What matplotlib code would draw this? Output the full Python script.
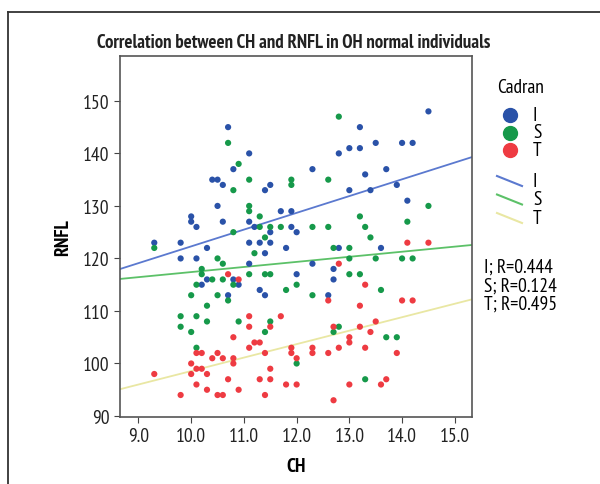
import numpy as np
import matplotlib
matplotlib.use('Agg')
import matplotlib.pyplot as plt
from matplotlib.lines import Line2D

plt.rcParams['font.family'] = ['PT Sans Narrow', 'DejaVu Sans']

# Cadran I (blue)
ch_i = [10.7, 11.1, 10.8, 10.4, 10.5, 10.6, 11.4, 11.5, 10.5, 10.0, 10.0, 10.1, 10.6, 11.1,
        11.7, 11.9, 11.2, 11.5, 11.9, 12.0, 9.3, 9.8, 10.3, 11.1, 11.3, 11.5, 11.8,
        14.5, 13.2, 12.8, 13.0, 13.2, 13.5, 14.0, 14.2, 12.3, 13.7, 13.3, 13.0, 13.4, 13.9,
        14.1, 12.8, 13.6, 11.4, 9.8, 10.1, 11.1, 10.3, 10.2, 10.8, 10.9, 11.3, 11.4, 10.7,
        12.0, 12.3, 12.7, 12.7, 12.6]
rnfl_i = [145, 140, 137, 135, 135, 134, 133, 134, 130, 128, 127, 126, 127, 127,
          129, 129, 126, 125, 126, 125, 123, 123, 122, 123, 123, 123, 122,
          148, 145, 140, 141, 141, 142, 142, 142, 137, 137, 136, 133, 133, 134,
          131, 122, 122, 121, 120, 120, 119, 116, 115, 116, 115, 114, 113, 113,
          117, 119, 118, 116, 113]

# Cadran S (green)
ch_s = [10.7, 10.9, 11.1, 10.8, 11.9, 11.9, 11.1, 11.1, 11.3, 11.3, 11.5, 11.7, 11.4, 10.8,
        9.3, 12.8, 12.6, 13.2, 12.3, 12.6, 13.3, 14.1, 14.5, 13.4, 13.0, 12.7, 11.2,
        10.5, 10.6, 10.2, 10.2, 11.1, 11.4, 11.5, 10.1, 10.4, 10.6, 10.8, 11.8, 12.0, 10.0,
        10.5, 10.7, 10.3, 9.8, 10.1, 9.8, 10.3, 10.0, 10.9, 11.5, 11.4, 10.1, 12.0,
        13.0, 13.5, 14.0, 14.2, 13.0, 13.2, 12.3, 13.6, 12.8, 12.7, 13.7, 13.9, 13.3]
rnfl_s = [142, 138, 135, 133, 135, 134, 130, 129, 128, 126, 126, 126, 124, 125,
          122, 147, 135, 128, 126, 126, 126, 127, 130, 124, 122, 122, 121,
          120, 119, 118, 117, 117, 117, 117, 115, 116, 116, 115, 114, 115, 113,
          113, 112, 111, 109, 109, 107, 108, 106, 108, 108, 106, 103, 100,
          120, 120, 120, 120, 117, 117, 113, 114, 107, 106, 105, 105, 97]

# Cadran T (red)
ch_t = [14.1, 14.5, 10.7, 10.9, 11.1, 11.1, 11.7, 11.5, 10.8, 11.2, 11.3, 11.1, 11.4, 10.1,
        10.2, 10.5, 10.4, 10.6, 10.8, 10.8, 10.0, 10.1, 10.2, 9.3, 10.0, 10.3, 11.5,
        11.9, 11.9, 12.0, 10.1, 10.7, 11.3, 11.5, 11.8, 12.0, 9.8, 10.3, 10.5, 10.6, 10.9,
        11.4, 12.8, 13.3, 12.6, 14.0, 14.2, 13.2, 13.5, 12.7, 13.2, 13.4, 13.0, 13.0,
        12.3, 12.3, 12.8, 12.6, 13.3, 13.9, 13.0, 13.6, 13.7, 12.7]
rnfl_t = [123, 123, 117, 116, 109, 107, 109, 107, 105, 104, 104, 103, 102, 102,
          102, 102, 101, 101, 101, 100, 100, 99, 99, 98, 98, 98, 99,
          103, 102, 101, 96, 97, 97, 97, 96, 96, 94, 95, 94, 94, 95,
          94, 119, 115, 112, 112, 112, 111, 108, 107, 107, 106, 105, 104,
          103, 102, 103, 102, 103, 102, 96, 96, 97, 93]

groups = ['I', 'S', 'T']
r_values = ['0.444', '0.124', '0.495']
dot_colors = ['#2a52a8', '#16994a', '#ee3b42']
line_colors = ['#5b79cf', '#5cc168', '#e9e7a3']

fig = plt.figure(figsize=(6, 4.85), dpi=100)
ax = fig.add_axes([0.2, 0.138, 0.587, 0.744])

data = [(ch_i, rnfl_i), (ch_s, rnfl_s), (ch_t, rnfl_t)]
xs = np.array([8.65, 15.33])
for (x, y), dc, lc in zip(data, dot_colors, line_colors):
    ax.scatter(x, y, s=20, color=dc, edgecolors='none', zorder=3)
    b, a = np.polyfit(x, y, 1)
    ax.plot(xs, a + b * xs, color=lc, lw=1.3, zorder=2)

ax.set_xlim(8.65, 15.33)
ax.set_ylim(89.8, 158.5)
ax.set_xticks(np.arange(9, 15.1, 1))
ax.set_xticklabels(['%.1f' % v for v in np.arange(9, 15.1, 1)])
ax.set_yticks(range(90, 151, 10))
for s in ax.spines.values():
    s.set_color('#555555')
    s.set_linewidth(1.2)
ax.tick_params(labelsize=14, length=4, color='#444444', labelcolor='#222222')
ax.set_xlabel('CH', fontsize=14, fontweight='bold', labelpad=8)
ax.set_ylabel('RNFL', fontsize=14, fontweight='bold', labelpad=8)

fig.text(0.49, 0.911, 'Correlation between CH and RNFL in OH normal individuals',
         ha='center', va='center', fontsize=13.5, fontweight='bold', color='#222222')

# outer frame
fig.add_artist(Line2D([8/600, 1], [1 - 13/485, 1 - 13/485], color='#333333', lw=1.3))
fig.add_artist(Line2D([8/600, 8/600], [0, 1 - 13/485], color='#333333', lw=1.3))

# legend
fig.text(497/600, 1 - 88/485, 'Cadran', fontsize=14, va='center', ha='left')
for k, g in enumerate(groups):
    yy = 1 - (116 + 17.5 * k) / 485
    fig.add_artist(Line2D([510/600], [yy], marker='o', markersize=10, color=dot_colors[k], lw=0))
    fig.text(533/600, yy, g, fontsize=14, va='center', ha='left')
for k, g in enumerate(groups):
    yy = 1 - (182 + 18.5 * k) / 485
    fig.add_artist(Line2D([497/600, 522/600], [yy + 5/485, yy - 5/485], color=line_colors[k], lw=1.5))
    fig.text(533/600, yy, g, fontsize=14, va='center', ha='left')
for k, g in enumerate(groups):
    yy = 1 - (268 + 18.5 * k) / 485
    fig.text(484/600, yy, '%s; R=%s' % (g, r_values[k]), fontsize=14, va='center', ha='left')

fig.savefig('out.png', dpi=100)
